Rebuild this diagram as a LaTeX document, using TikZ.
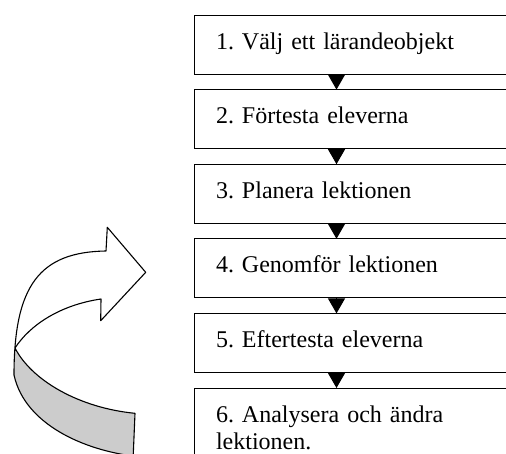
\documentclass[tikz,border=0pt]{standalone}
\usepackage{fontspec}
\setmainfont{Liberation Serif}
\usetikzlibrary{positioning}
\usetikzlibrary{arrows.meta}
\frenchspacing

\begin{document}
\begin{tikzpicture}[x=1pt, y=-1pt, node distance=15.6pt,
  stage/.style={draw, line width=1pt, anchor=north west, outer sep=0pt,
    minimum width=340pt, text width=296pt, align=left, inner xsep=22pt,
    inner ysep=12pt, text height=22pt, text depth=13pt,
    font=\fontsize{24}{27}\selectfont},
  flow/.style={line width=1pt, -{Triangle[width=17pt,length=15pt]}},
  ribbon/.style={line width=1.1pt, line join=round}]
\useasboundingbox (0,0) rectangle (506,453);
\clip (0,0) rectangle (506,453);

\node[stage] (b1) at (194,15) {1. Välj ett lärandeobjekt};
\node[stage, below=of b1] (b2) {2. Förtesta eleverna};
\node[stage, below=of b2] (b3) {3. Planera lektionen};
\node[stage, below=of b3] (b4) {4. Genomför lektionen};
\node[stage, below=of b4] (b5) {5. Eftertesta eleverna};
\node[stage, below=of b5, text depth=40pt] (b6) {6. Analysera och ändra\\lektionen.};

\coordinate (ax) at (336.5,0);
\foreach \i/\j in {1/2, 2/3, 3/4, 4/5, 5/6} {
	\draw[flow] (b\i.south -| ax) -- (b\j.north -| ax);
	};

\coordinate (p) at (15,348);
\fill[black!20] (p) .. controls (32,381) and (80,408) .. (135,413.3)
	-- (133.2,456) .. controls (85,450) and (25,425) .. (14,375) -- cycle;
\draw[ribbon] (133.2,456) .. controls (85,450) and (25,425) .. (14,375)
	.. controls (14,285) and (40,252) .. (106,251)
	-- (107.3,227.3) -- (145.7,272.3) -- (100.7,320.7) -- (101,299)
	.. controls (60,305) and (30,325) .. (p)
	.. controls (32,381) and (80,408) .. (135,413.3) -- (133.2,456);
\end{tikzpicture}
\end{document}
